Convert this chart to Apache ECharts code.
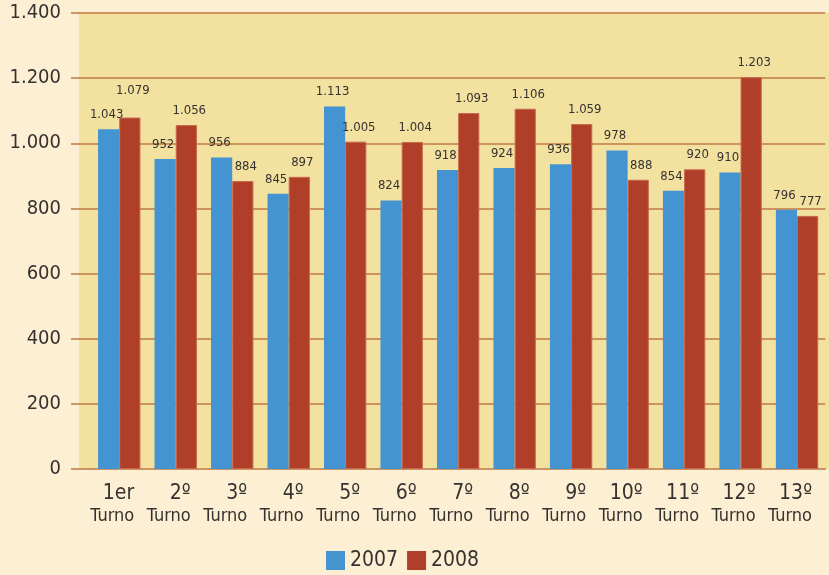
<!DOCTYPE html>
<html>
<head>
<meta charset="utf-8">
<script src="https://cdn.jsdelivr.net/npm/echarts@6/dist/echarts.min.js"></script>
<style>
  html, body { margin: 0; padding: 0; background: #fdefd4; }
  #chart { width: 829px; height: 575px; }
</style>
</head>
<body>
<div id="chart"></div>
<script>
const turnos = ['1er', '2º', '3º', '4º', '5º', '6º', '7º', '8º', '9º', '10º', '11º', '12º', '13º'];
const values2007 = [1043, 952, 956, 845, 1113, 824, 918, 924, 936, 978, 854, 910, 796];
const values2008 = [1079, 1056, 884, 897, 1005, 1004, 1093, 1106, 1059, 888, 920, 1203, 777];

const FONT = '"DejaVu Sans Condensed", "Liberation Sans Narrow", sans-serif';
const TEXT = '#353230';
const LINE = '#bf7a44';

// 1043 -> "1.043"
const fmt = v => String(v).replace(/\B(?=(\d{3})+(?!\d))/g, '.');

const chart = echarts.init(document.getElementById('chart'));

const barLabel = (dx) => ({
  show: true,
  position: 'top',
  distance: 8,
  offset: [dx, 0],
  color: TEXT,
  fontFamily: FONT,
  fontSize: 13,
  formatter: p => fmt(p.value),
});

// the first 2008 label sits higher so it clears the 2007 one
const data2008 = values2008.map((v, i) => (i === 0 ? { value: v, label: { distance: 20 } } : v));

chart.setOption({
  backgroundColor: '#fdefd4',
  animation: false,
  graphic: [
    {
      type: 'rect',
      z: -10,
      silent: true,
      shape: { x: 79, y: 13, width: 750, height: 456 },
      style: { fill: '#f3e1a0' },
    },
  ],
  grid: { left: 91, right: 3, top: 13, bottom: 106 },
  legend: {
    top: 545,
    left: 321,
    itemWidth: 19,
    itemHeight: 19,
    itemGap: 9,
    icon: 'rect',
    itemStyle: { borderWidth: 0 },
    textStyle: { color: TEXT, fontFamily: FONT, fontSize: 21 },
    data: ['2007', '2008'],
  },
  xAxis: {
    type: 'category',
    data: turnos,
    axisLine: { lineStyle: { color: '#cc9462', width: 2 } },
    axisTick: { show: false },
    axisLabel: {
      interval: 0,
      margin: 14,
      formatter: t => `{n|${t}}\n{t|Turno}`,
      rich: {
        n: { fontFamily: FONT, fontSize: 21, color: TEXT, align: 'right', padding: [0, 14, 0, 0], lineHeight: 22 },
        t: { fontFamily: FONT, fontSize: 18, color: TEXT, align: 'right', padding: [0, 14, 0, 0], lineHeight: 22 },
      },
    },
  },
  yAxis: {
    type: 'value',
    min: 0,
    max: 1400,
    interval: 200,
    axisLine: { show: false },
    axisTick: { show: true, length: 20, lineStyle: { color: LINE, width: 1.5 } },
    splitLine: { lineStyle: { color: LINE, width: 1.5 } },
    axisLabel: {
      margin: 30,
      color: TEXT,
      fontFamily: FONT,
      fontSize: 20,
      formatter: v => fmt(v),
    },
  },
  series: [
    {
      name: '2007',
      type: 'bar',
      data: values2007,
      barGap: '0%',
      barCategoryGap: '25%',
      itemStyle: { color: '#4394d0' },
      label: barLabel(-2),
    },
    {
      name: '2008',
      type: 'bar',
      data: data2008,
      itemStyle: { color: '#b03f2a', borderColor: '#c8674c', borderWidth: 1 },
      label: barLabel(3),
    },
  ],
});
</script>
</body>
</html>
